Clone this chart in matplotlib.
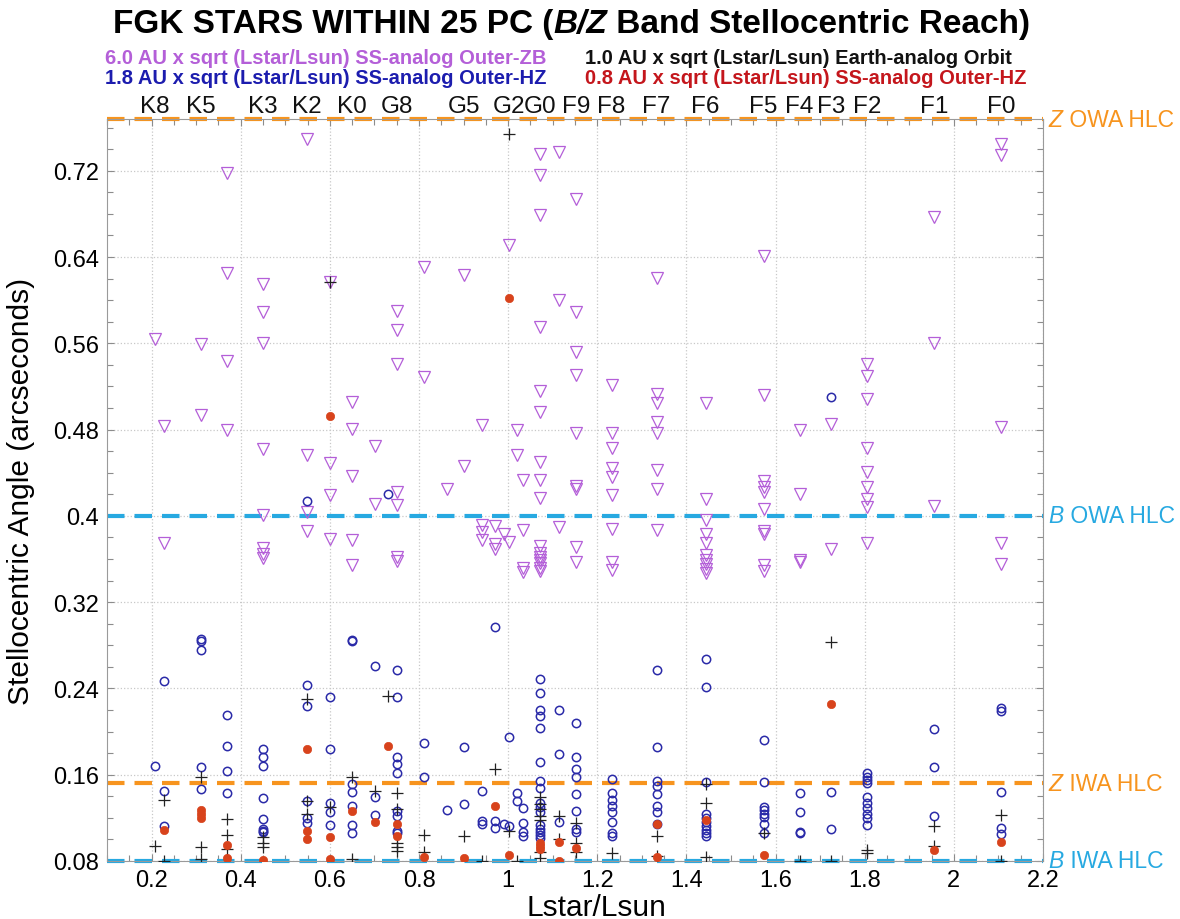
import matplotlib
matplotlib.use("Agg")
import matplotlib.pyplot as plt
from matplotlib.ticker import MultipleLocator, FuncFormatter

# Stellocentric angle (arcsec) of each star, grouped by its luminosity Lstar/Lsun
outer_zb_6au = {
    0.208: [0.564],
    0.229: [0.483, 0.375],
    0.310: [0.559, 0.494],
    0.369: [0.718, 0.625, 0.544, 0.480],
    0.449: [0.615, 0.589, 0.560, 0.462, 0.401, 0.370, 0.365, 0.361],
    0.549: [0.749, 0.456, 0.404, 0.386],
    0.600: [0.617, 0.449, 0.419, 0.379],
    0.650: [0.506, 0.481, 0.437, 0.378, 0.354],
    0.701: [0.465, 0.411],
    0.750: [0.590, 0.572, 0.541, 0.422, 0.410, 0.362, 0.358],
    0.811: [0.631, 0.529],
    0.862: [0.425],
    0.901: [0.623, 0.446],
    0.941: [0.484, 0.392, 0.385, 0.378],
    0.971: [0.391, 0.374, 0.369],
    0.991: [0.383],
    1.002: [0.651, 0.376],
    1.020: [0.480, 0.456],
    1.033: [0.433, 0.387, 0.352, 0.348],
    1.072: [0.736, 0.716, 0.679, 0.575, 0.516, 0.496, 0.450, 0.433, 0.417,
            0.372, 0.366, 0.362, 0.359, 0.356, 0.352, 0.349],
    1.113: [0.737, 0.600, 0.390],
    1.152: [0.694, 0.589, 0.552, 0.531, 0.477, 0.428, 0.425, 0.371, 0.357],
    1.232: [0.521, 0.477, 0.463, 0.444, 0.436, 0.419, 0.388, 0.357, 0.350],
    1.333: [0.621, 0.513, 0.505, 0.487, 0.477, 0.443, 0.425, 0.387],
    1.443: [0.505, 0.416, 0.396, 0.383, 0.375, 0.364, 0.359, 0.355, 0.351, 0.347],
    1.573: [0.641, 0.512, 0.432, 0.427, 0.422, 0.406, 0.386, 0.383, 0.354, 0.349],
    1.654: [0.480, 0.420, 0.359, 0.357],
    1.725: [0.485, 0.369],
    1.805: [0.541, 0.530, 0.508, 0.463, 0.441, 0.427, 0.416, 0.408, 0.375],
    1.955: [0.677, 0.560, 0.409],
    2.106: [0.745, 0.735, 0.482, 0.375, 0.355],
}

outer_hz_18au = {
    0.208: [0.168],
    0.229: [0.247, 0.145, 0.112],
    0.310: [0.286, 0.284, 0.276, 0.167, 0.147],
    0.369: [0.215, 0.187, 0.163, 0.143],
    0.449: [0.184, 0.176, 0.168, 0.138, 0.119, 0.110, 0.108, 0.107],
    0.549: [0.414, 0.243, 0.224, 0.136, 0.120, 0.115],
    0.600: [0.232, 0.184, 0.134, 0.125, 0.113],
    0.650: [0.285, 0.284, 0.151, 0.144, 0.131, 0.113, 0.106],
    0.701: [0.261, 0.139, 0.123],
    0.730: [0.420],
    0.750: [0.257, 0.232, 0.176, 0.170, 0.162, 0.126, 0.122, 0.108, 0.106],
    0.811: [0.189, 0.158],
    0.862: [0.127],
    0.901: [0.186, 0.133],
    0.941: [0.145, 0.117, 0.114],
    0.971: [0.297, 0.117, 0.111],
    0.991: [0.114],
    1.002: [0.195, 0.112],
    1.020: [0.143, 0.136],
    1.033: [0.129, 0.115, 0.107, 0.103],
    1.072: [0.249, 0.236, 0.220, 0.214, 0.203, 0.172, 0.154, 0.148, 0.134,
            0.130, 0.125, 0.113, 0.110, 0.107, 0.104, 0.101],
    1.113: [0.220, 0.179, 0.116],
    1.152: [0.208, 0.176, 0.165, 0.158, 0.142, 0.126, 0.110, 0.107],
    1.232: [0.156, 0.143, 0.137, 0.131, 0.125, 0.116, 0.106, 0.103],
    1.333: [0.257, 0.186, 0.154, 0.150, 0.142, 0.131, 0.125, 0.114],
    1.443: [0.267, 0.241, 0.153, 0.124, 0.120, 0.116, 0.112, 0.109, 0.106, 0.103],
    1.573: [0.192, 0.153, 0.130, 0.127, 0.124, 0.121, 0.114, 0.106],
    1.654: [0.143, 0.125, 0.107, 0.106],
    1.725: [0.510, 0.144, 0.110],
    1.805: [0.162, 0.158, 0.155, 0.152, 0.139, 0.134, 0.129, 0.124, 0.120, 0.113],
    1.955: [0.202, 0.167, 0.122],
    2.106: [0.222, 0.219, 0.144, 0.111, 0.105],
}

earth_orbit_1au = {
    0.208: [0.094],
    0.229: [0.137, 0.080],
    0.310: [0.158, 0.093, 0.082],
    0.369: [0.119, 0.104, 0.091],
    0.449: [0.102, 0.097, 0.093],
    0.549: [0.230, 0.136, 0.124],
    0.600: [0.617, 0.130],
    0.650: [0.158, 0.082],
    0.701: [0.145],
    0.730: [0.233],
    0.750: [0.143, 0.128, 0.097, 0.093, 0.089],
    0.811: [0.104, 0.088],
    0.901: [0.103],
    0.941: [0.080],
    0.971: [0.165],
    1.002: [0.754, 0.108],
    1.020: [0.080],
    1.072: [0.139, 0.133, 0.128, 0.122, 0.118, 0.088, 0.083],
    1.113: [0.122, 0.100],
    1.152: [0.115, 0.097, 0.088],
    1.232: [0.087],
    1.333: [0.103, 0.085],
    1.443: [0.151, 0.134, 0.084],
    1.573: [0.106],
    1.654: [0.080],
    1.725: [0.283, 0.080],
    1.805: [0.090, 0.087],
    1.955: [0.112, 0.094],
    2.106: [0.123, 0.080],
}

outer_hz_08au = {
    0.229: [0.109],
    0.310: [0.127, 0.124, 0.120],
    0.369: [0.095, 0.083],
    0.449: [0.081],
    0.549: [0.184, 0.108, 0.100],
    0.600: [0.493, 0.102, 0.082],
    0.650: [0.126],
    0.701: [0.116],
    0.730: [0.187],
    0.750: [0.114, 0.103],
    0.811: [0.084],
    0.901: [0.083],
    0.971: [0.131],
    1.002: [0.602, 0.086],
    1.072: [0.097, 0.094, 0.091],
    1.113: [0.098, 0.080],
    1.152: [0.092],
    1.333: [0.114, 0.084],
    1.443: [0.118],
    1.573: [0.086],
    1.725: [0.226],
    1.955: [0.090],
    2.106: [0.098],
}

spectral_types = ["K8", "K5", "K3", "K2", "K0", "G8", "G5", "G2", "G0", "F9",
                  "F8", "F7", "F6", "F5", "F4", "F3", "F2", "F1", "F0"]
spectral_lstar = [0.208, 0.310, 0.449, 0.549, 0.650, 0.750, 0.901, 1.002, 1.072,
                  1.152, 1.232, 1.333, 1.443, 1.573, 1.654, 1.725, 1.805, 1.955, 2.106]

# Working-angle limits of the hybrid Lyot coronagraph (arcsec)
hlc_limits = [("Z", " OWA HLC", 0.768, "orange"),
              ("B", " OWA HLC", 0.400, "blue"),
              ("Z", " IWA HLC", 0.152, "orange"),
              ("B", " IWA HLC", 0.080, "blue")]

legend_entries = ["6.0 AU x sqrt (Lstar/Lsun) SS-analog Outer-ZB",
                  "1.8 AU x sqrt (Lstar/Lsun) SS-analog Outer-HZ",
                  "1.0 AU x sqrt (Lstar/Lsun) Earth-analog Orbit",
                  "0.8 AU x sqrt (Lstar/Lsun) SS-analog Outer-HZ"]

PURPLE = "#b45fd8"
NAVY = "#2a2aa8"
RED = "#d8431c"
LINE_COLORS = {"orange": "#f7941e", "blue": "#27a9e1"}
TEXT_COLORS = [PURPLE, "#1c1cae", "#111111", "#c4161c"]

plt.rcParams["font.family"] = ["Liberation Sans", "DejaVu Sans"]


def flatten(groups):
    xs, ys = [], []
    for lum, vals in groups.items():
        for v in vals:
            xs.append(lum)
            ys.append(v)
    return xs, ys


fig = plt.figure(figsize=(11.8, 9.2), dpi=100)
ax = fig.add_axes([107 / 1180, 58 / 920, 936 / 1180, 742 / 920])

ax.set_xlim(0.1, 2.2)
ax.set_ylim(0.08, 0.768)

# coronagraph working-angle limits
for letter, rest, yv, key in hlc_limits:
    ax.axhline(yv, color=LINE_COLORS[key], lw=3.0, dashes=(4.2, 2.4),
               zorder=2, clip_on=False)

x, y = flatten(outer_zb_6au)
ax.plot(x, y, ls="none", marker="v", ms=8.5, mfc="none", mec=PURPLE, mew=0.9, zorder=3)
x, y = flatten(outer_hz_18au)
ax.plot(x, y, ls="none", marker="o", ms=6, mfc="none", mec=NAVY, mew=1.1, zorder=4)
x, y = flatten(earth_orbit_1au)
ax.plot(x, y, ls="none", marker="+", ms=9, mec="#222222", mew=0.9, zorder=5)
x, y = flatten(outer_hz_08au)
ax.plot(x, y, ls="none", marker="o", ms=6, mfc=RED, mec=RED, mew=0.5, zorder=6)

# axes styling
ax.xaxis.set_major_locator(MultipleLocator(0.2))
ax.xaxis.set_minor_locator(MultipleLocator(0.05))
ax.yaxis.set_major_locator(MultipleLocator(0.08))
ax.yaxis.set_minor_locator(MultipleLocator(0.02))
fmt = FuncFormatter(lambda v, p: "%g" % round(v, 4))
ax.xaxis.set_major_formatter(fmt)
ax.yaxis.set_major_formatter(fmt)
ax.tick_params(which="both", direction="in", top=True, right=True,
               color="#8c8c8c", width=0.8)
ax.tick_params(which="major", length=5, labelsize=17, pad=6)
ax.tick_params(which="minor", length=4)
ax.grid(True, which="major", color="#c8c8c8", ls=":", lw=0.9)
ax.set_axisbelow(True)
for sp in ax.spines.values():
    sp.set_color("#9a9a9a")
    sp.set_linewidth(0.8)

ax.set_xlabel("Lstar/Lsun", fontsize=21.5)
ax.xaxis.set_label_coords(0.523, -0.043)
ax.set_ylabel("Stellocentric Angle (arcseconds)", fontsize=21.5)
ax.yaxis.set_label_coords(-0.077, 0.5)

# spectral type markers along the top
for name, lum in zip(spectral_types, spectral_lstar):
    ax.text(lum, 1.009, name, transform=ax.get_xaxis_transform(),
            ha="center", va="baseline", fontsize=17.5, color="#111111")

# labels for the limit lines, with the band letter in italics
for letter, rest, yv, key in hlc_limits:
    t = ax.text(1.006, yv, letter, transform=ax.get_yaxis_transform(),
                ha="left", va="center", fontsize=16.5, style="italic",
                color=LINE_COLORS[key])
    ax.annotate(rest, xy=(1, 0.5), xycoords=t, ha="left", va="center",
                fontsize=16.5, color=LINE_COLORS[key])

# title pieces: bold, with the band names in bold italic
t1 = fig.text(113 / 1180, 1 - 24 / 920, "FGK STARS WITHIN 25 PC (", fontsize=24,
              fontweight="bold", ha="left", va="center")
t2 = ax.annotate("B/Z", xy=(1, 0.5), xycoords=t1, ha="left", va="center",
                 fontsize=24, fontweight="bold", style="italic", annotation_clip=False)
ax.annotate(" Band Stellocentric Reach)", xy=(1, 0.5), xycoords=t2, ha="left",
            va="center", fontsize=24, fontweight="bold", annotation_clip=False)

# series key as coloured text
key_pos = [(105, 59), (105, 78), (585, 59), (585, 78)]
for (px, py), txt, col in zip(key_pos, legend_entries, TEXT_COLORS):
    fig.text(px / 1180, 1 - py / 920, txt, fontsize=14.5, fontweight="bold",
             color=col, ha="left", va="center")

fig.savefig("out.png", dpi=100)
